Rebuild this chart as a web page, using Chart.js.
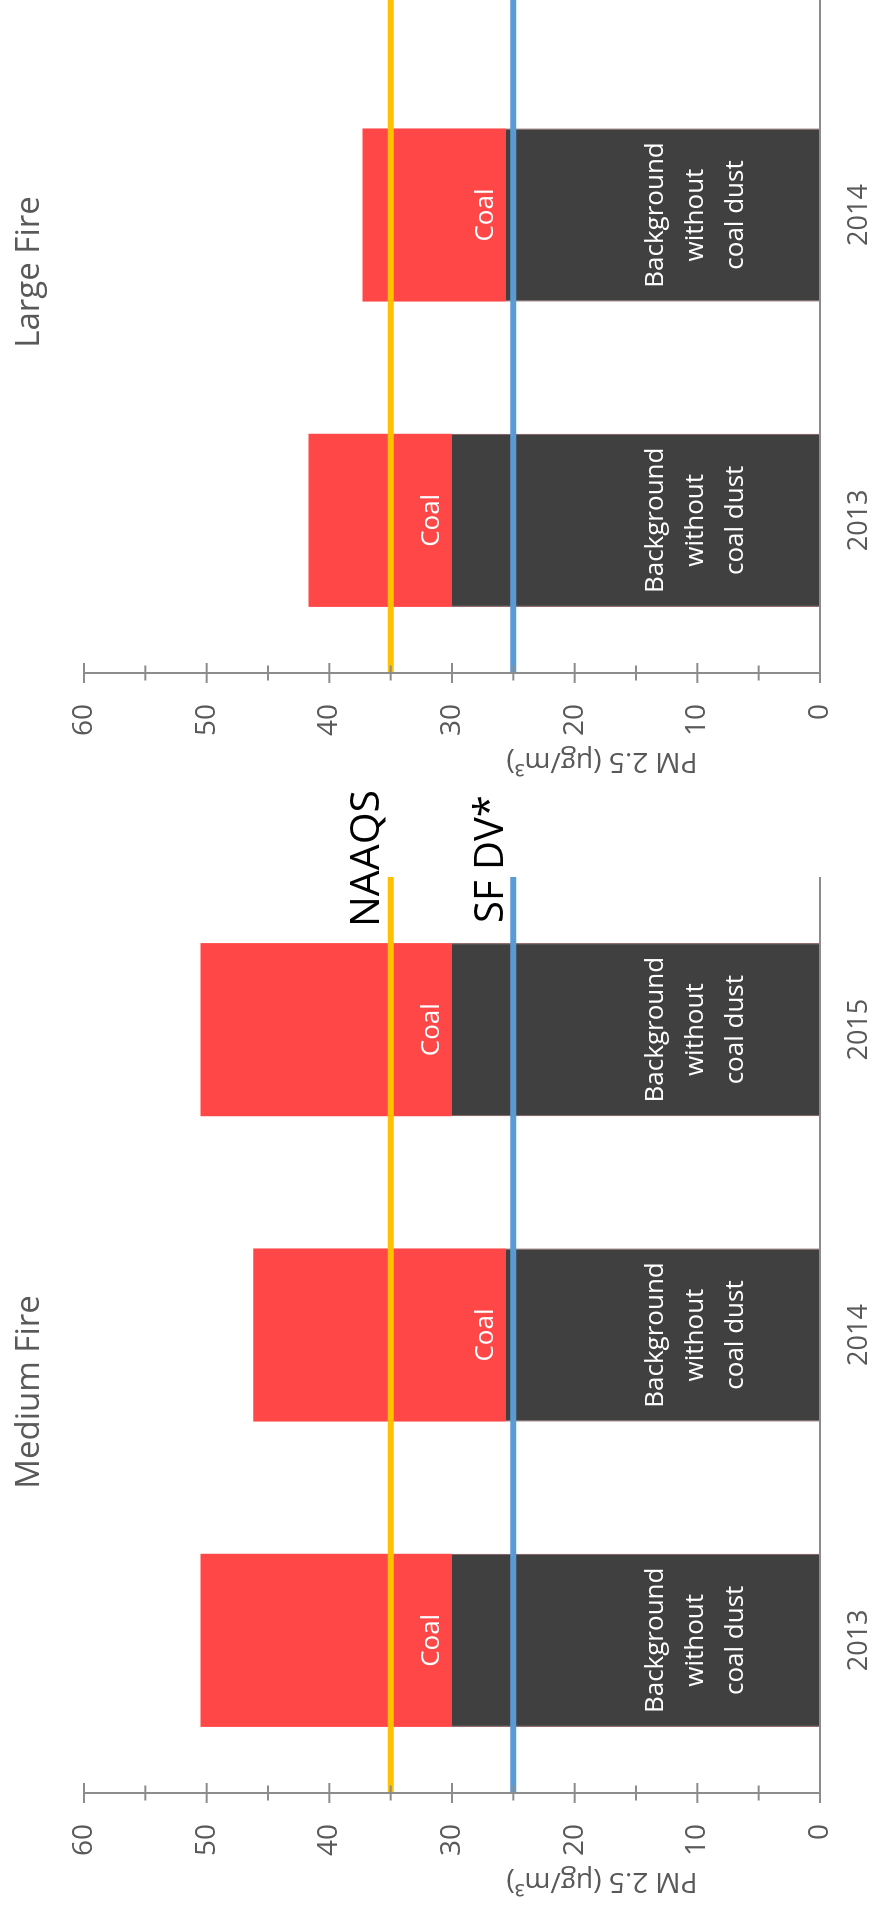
<!DOCTYPE html>
<html>
<head>
<meta charset="utf-8">
<script src="https://cdn.jsdelivr.net/npm/chart.js@4/dist/chart.umd.min.js"></script>
<style>
  html, body { margin: 0; padding: 0; background: #fff; overflow: hidden; width: 873px; height: 1907px; }
  /* Both panels are laid out landscape, then the sheet is turned a quarter turn counter-clockwise */
  #sheet {
    position: absolute; left: 0; top: 0;
    width: 1907px; height: 873px; overflow: hidden; background: #fff;
    transform-origin: 0 0;
    transform: translateY(1907px) rotate(-90deg);
  }
  .panel { position: absolute; top: 0; width: 1120px; height: 873px; }
  #medium { left: 0; }
  #large { left: 1120px; }
  canvas { display: block; }
</style>
</head>
<body>
<div id="sheet">
  <div class="panel" id="medium"><canvas id="cMedium" width="1120" height="873"></canvas></div>
  <div class="panel" id="large"><canvas id="cLarge" width="1120" height="873"></canvas></div>
</div>
<script>
// ---- data (PM 2.5, µg/m³) ----
const years = ['2013', '2014', '2015'];
const mediumBackground = [30, 25.6, 30];
const mediumCoal = [20.5, 20.6, 20.5];
const largeBackground = [30, 25.6, null];
const largeCoal = [11.7, 11.7, null];
const valueTicks = [0, 10, 20, 30, 40, 50, 60];
const naaqsLevel = 35;
const sfDvLevel = 25;
const backgroundLabel = ['Background', 'without', 'coal dust'];
const coalLabel = 'Coal';
const axisTitle = 'PM 2.5 (µg/m³)';

const FONT = '"Open Sans", "DejaVu Sans", sans-serif';
const GREY_TEXT = '#595959';
const AXIS_GREY = '#8c8c8c';

// reference lines, axes with crossing tick marks, in-bar labels and titles
const decor = {
  id: 'decor',
  afterDatasetsDraw(chart, args, opts) {
    const { ctx, chartArea: a, scales: { x, y } } = chart;
    ctx.save();

    // in-bar labels
    ctx.fillStyle = '#ffffff';
    ctx.font = '26px ' + FONT;
    ctx.textAlign = 'center';
    ctx.textBaseline = 'alphabetic';
    const bgData = chart.data.datasets[0].data;
    chart.getDatasetMeta(0).data.forEach((bar, i) => {
      if (bgData[i] == null) return;
      const n = backgroundLabel.length;
      backgroundLabel.forEach((line, k) => {
        ctx.fillText(line, bar.x, bar.base - 77 - (n - 1 - k) * 40);
      });
    });
    const coalData = chart.data.datasets[1].data;
    chart.getDatasetMeta(1).data.forEach((bar, i) => {
      if (coalData[i] == null) return;
      ctx.fillText(coalLabel, bar.x, bar.base - 13);
    });

    // standard / design value lines
    [[naaqsLevel, '#FFC000'], [sfDvLevel, '#5B9BD5']].forEach(([v, c]) => {
      const py = y.getPixelForValue(v);
      ctx.strokeStyle = c;
      ctx.lineWidth = 6;
      ctx.beginPath();
      ctx.moveTo(a.left, py);
      ctx.lineTo(a.right, py);
      ctx.stroke();
    });

    // axes
    ctx.strokeStyle = AXIS_GREY;
    ctx.lineWidth = 2;
    ctx.beginPath();
    ctx.moveTo(a.left, y.getPixelForValue(y.max));
    ctx.lineTo(a.left, a.bottom);
    ctx.lineTo(a.right, a.bottom);
    ctx.stroke();
    for (let v = y.min; v <= y.max; v += 5) {
      const py = y.getPixelForValue(v);
      const h = v % 10 === 0 ? 10 : 7.5;
      ctx.beginPath();
      ctx.moveTo(a.left - h, py);
      ctx.lineTo(a.left + h, py);
      ctx.stroke();
    }

    // line captions
    ctx.fillStyle = '#000';
    ctx.textAlign = 'left';
    ctx.font = '41px ' + FONT;
    ctx.fillText('NAAQS', a.right - 50, y.getPixelForValue(naaqsLevel) - 12);
    ctx.font = '40px ' + FONT;
    ctx.fillText('SF DV*', a.right - 46, y.getPixelForValue(sfDvLevel) - 10);

    // chart title
    ctx.fillStyle = GREY_TEXT;
    ctx.textAlign = 'center';
    ctx.font = '33px ' + FONT;
    ctx.fillText(opts.title, (a.left + a.right) / 2 - 57, 39);

    // value axis title
    ctx.font = '28px ' + FONT;
    ctx.translate(a.left - 88, a.bottom - 218);
    ctx.rotate(-Math.PI / 2);
    ctx.textBaseline = 'middle';
    ctx.fillText(axisTitle, 0, 0);

    ctx.restore();
  }
};

function makeChart(id, title, bg, coal) {
  return new Chart(document.getElementById(id), {
    type: 'bar',
    data: {
      labels: years,
      datasets: [
        {
          label: 'Background without coal dust',
          data: bg,
          backgroundColor: '#404040',
          borderColor: '#7a4c4c',
          borderWidth: { left: 1, right: 1, top: 0, bottom: 0 },
          borderSkipped: false
        },
        {
          label: 'Coal',
          data: coal,
          backgroundColor: '#FF4747'
        }
      ]
    },
    options: {
      responsive: false,
      animation: false,
      events: [],
      layout: { padding: { left: 0, right: 90, top: 84, bottom: 0 } },
      datasets: { bar: { categoryPercentage: 1, barPercentage: 0.567 } },
      plugins: {
        legend: { display: false },
        tooltip: { enabled: false },
        title: { display: false },
        decor: { title: title }
      },
      scales: {
        x: {
          stacked: true,
          grid: { display: false, drawTicks: false },
          border: { display: false },
          ticks: { color: GREY_TEXT, font: { family: FONT, size: 27 }, padding: 23, maxRotation: 0 },
          afterFit(s) { s.height = 53; }
        },
        y: {
          stacked: true,
          min: 0, max: 60,
          grid: { display: false, drawTicks: false },
          border: { display: false },
          afterBuildTicks(s) { s.ticks = valueTicks.map(v => ({ value: v })); },
          ticks: { color: GREY_TEXT, font: { family: FONT, size: 28 }, padding: 31 },
          afterFit(s) { s.width = 114; }
        }
      }
    },
    plugins: [decor]
  });
}

makeChart('cMedium', 'Medium Fire', mediumBackground, mediumCoal);
makeChart('cLarge', 'Large Fire', largeBackground, largeCoal);
</script>
</body>
</html>
